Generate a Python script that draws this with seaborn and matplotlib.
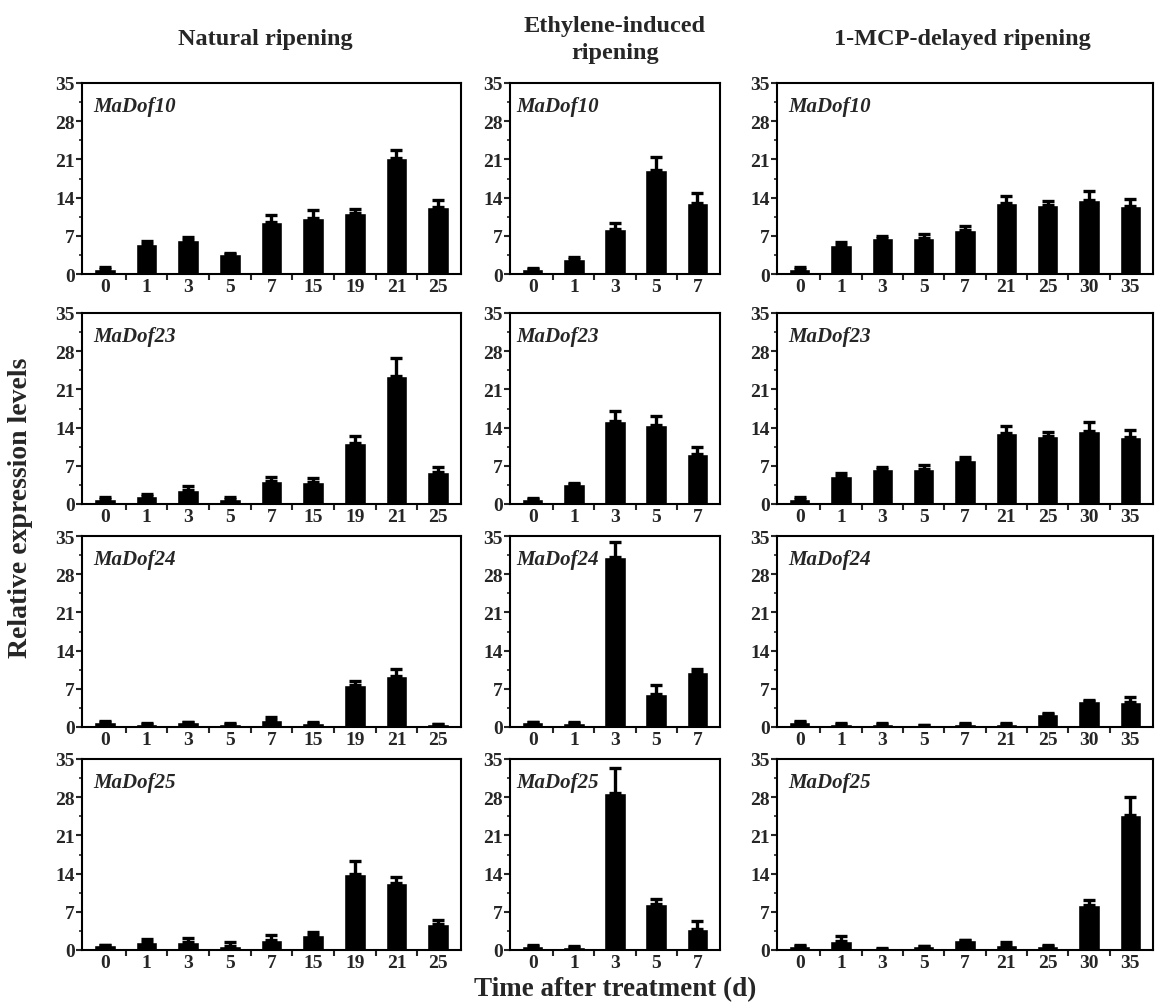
import numpy as np
import pandas as pd
import matplotlib
matplotlib.use("Agg")
import matplotlib.pyplot as plt
import seaborn as sns

# time points (days) per treatment
days_natural = ["0", "1", "3", "5", "7", "15", "19", "21", "25"]
days_ethylene = ["0", "1", "3", "5", "7"]
days_mcp = ["0", "1", "3", "5", "7", "21", "25", "30", "35"]

treatments = ["Natural ripening", "Ethylene-induced\nripening", "1-MCP-delayed ripening"]
genes = ["MaDof10", "MaDof23", "MaDof24", "MaDof25"]

# mean expression, natural ripening
nat_dof10 = [1.0, 5.5, 6.2, 3.6, 9.5, 10.3, 11.1, 21.3, 12.3]
nat_dof23 = [1.0, 1.5, 2.5, 1.0, 4.3, 4.0, 11.2, 23.4, 5.9]
nat_dof24 = [1.0, 0.6, 0.9, 0.6, 1.2, 0.8, 7.7, 9.4, 0.5]
nat_dof25 = [0.9, 1.5, 1.5, 0.7, 1.9, 2.7, 13.9, 12.2, 4.7]
# upper error, natural ripening
nat_dof10_err = [0.2, 0.5, 0.6, 0.3, 1.4, 1.5, 0.9, 1.5, 1.2]
nat_dof23_err = [0.2, 0.3, 0.8, 0.3, 0.6, 0.8, 1.2, 3.3, 0.8]
nat_dof24_err = [0.1, 0.1, 0.1, 0.1, 0.7, 0.1, 0.8, 1.3, 0.1]
nat_dof25_err = [0.1, 0.5, 0.7, 0.7, 0.8, 0.6, 2.4, 1.1, 0.8]

# mean expression, ethylene-induced ripening
eth_dof10 = [0.9, 2.7, 8.2, 19.0, 13.1]
eth_dof23 = [1.0, 3.6, 15.3, 14.4, 9.2]
eth_dof24 = [0.9, 0.8, 31.1, 6.1, 10.1]
eth_dof25 = [0.8, 0.6, 28.8, 8.4, 3.8]
eth_dof10_err = [0.2, 0.5, 1.1, 2.4, 1.8]
eth_dof23_err = [0.1, 0.2, 1.7, 1.7, 1.3]
eth_dof24_err = [0.1, 0.1, 2.8, 1.6, 0.6]
eth_dof25_err = [0.1, 0.1, 4.5, 1.0, 1.5]

# mean expression, 1-MCP-delayed ripening
mcp_dof10 = [1.0, 5.3, 6.6, 6.6, 8.1, 13.0, 12.6, 13.6, 12.4]
mcp_dof23 = [1.0, 5.2, 6.5, 6.5, 8.0, 13.0, 12.4, 13.4, 12.2]
mcp_dof24 = [1.0, 0.6, 0.6, 0.3, 0.6, 0.6, 2.3, 4.8, 4.5]
mcp_dof25 = [0.8, 1.7, 0.2, 0.7, 1.8, 0.9, 0.8, 8.3, 24.7]
mcp_dof10_err = [0.2, 0.5, 0.3, 0.7, 0.7, 1.3, 0.8, 1.6, 1.3]
mcp_dof23_err = [0.2, 0.5, 0.3, 0.7, 0.7, 1.3, 0.8, 1.6, 1.3]
mcp_dof24_err = [0.1, 0.1, 0.1, 0.1, 0.1, 0.1, 0.2, 0.1, 1.0]
mcp_dof25_err = [0.1, 0.9, 0.1, 0.1, 0.1, 0.5, 0.1, 0.9, 3.4]

panels = {
    (0, 0): (days_natural, nat_dof10, nat_dof10_err),
    (1, 0): (days_natural, nat_dof23, nat_dof23_err),
    (2, 0): (days_natural, nat_dof24, nat_dof24_err),
    (3, 0): (days_natural, nat_dof25, nat_dof25_err),
    (0, 1): (days_ethylene, eth_dof10, eth_dof10_err),
    (1, 1): (days_ethylene, eth_dof23, eth_dof23_err),
    (2, 1): (days_ethylene, eth_dof24, eth_dof24_err),
    (3, 1): (days_ethylene, eth_dof25, eth_dof25_err),
    (0, 2): (days_mcp, mcp_dof10, mcp_dof10_err),
    (1, 2): (days_mcp, mcp_dof23, mcp_dof23_err),
    (2, 2): (days_mcp, mcp_dof24, mcp_dof24_err),
    (3, 2): (days_mcp, mcp_dof25, mcp_dof25_err),
}

sns.set_style("ticks")
plt.rcParams["font.family"] = ["Liberation Serif", "DejaVu Serif"]
plt.rcParams["font.weight"] = "bold"

W, H = 1157, 1004
fig = plt.figure(figsize=(W / 100, H / 100), dpi=100)

col_left = [82, 510, 777]
col_width = [379, 210, 376]
row_top = [84, 314, 537, 760]
row_height = 191

for (r, c), (days, vals, errs) in panels.items():
    left = col_left[c] / W
    bottom = 1 - (row_top[r] + row_height) / H
    ax = fig.add_axes([left, bottom, col_width[c] / W, row_height / H])
    df = pd.DataFrame({"day": days, "value": vals})
    sns.barplot(data=df, x="day", y="value", order=days, color="black",
                width=0.52, errorbar=None, ax=ax, saturation=1)
    ax.errorbar(np.arange(len(days)), vals, yerr=[np.zeros(len(errs)), errs],
                fmt="none", ecolor="black", elinewidth=2.4, capsize=4.5, capthick=2.4)
    n = len(days)
    ax.set_xlim(-0.55, n - 0.45)
    ax.set_ylim(0, 35)
    ax.set_yticks(np.arange(0, 36, 7))
    ax.set_yticks(np.arange(3.5, 35, 7), minor=True)
    ax.set_xticks(np.arange(n))
    ax.set_xticks(np.arange(n - 1) + 0.5, minor=True)
    ax.set_xticklabels(days)
    ax.tick_params(axis="x", which="major", length=0, pad=3, labelsize=14)
    ax.tick_params(axis="x", which="minor", length=4, width=1.5)
    ax.tick_params(axis="y", which="major", length=4, width=1.5, pad=1, labelsize=14)
    ax.tick_params(axis="y", which="minor", length=2.5, width=1.2)
    for lab in ax.get_xticklabels() + ax.get_yticklabels():
        lab.set_fontweight("bold")
    for sp in ax.spines.values():
        sp.set_visible(True)
        sp.set_linewidth(1.5)
        sp.set_color("black")
    ax.set_xlabel("")
    ax.set_ylabel("")
    ax.text(0.03, 0.93, genes[r], transform=ax.transAxes, ha="left", va="top",
            fontsize=15, fontweight="bold", fontstyle="italic")

fig.text(265 / W, 1 - 40 / H, treatments[0], ha="center", va="center",
         fontsize=17.5, fontweight="bold")
fig.text(615 / W, 1 - 40 / H, treatments[1], ha="center", va="center",
         fontsize=17.5, fontweight="bold", linespacing=1.4)
fig.text(962 / W, 1 - 40 / H, treatments[2], ha="center", va="center",
         fontsize=17.5, fontweight="bold")
fig.text(21 / W, 1 - 508 / H, "Relative expression levels", ha="center", va="center",
         rotation=90, fontsize=20, fontweight="bold")
fig.text(615 / W, 2 / H, "Time after treatment (d)", ha="center", va="bottom",
         fontsize=19.5, fontweight="bold")

fig.savefig("out.png", dpi=100)
